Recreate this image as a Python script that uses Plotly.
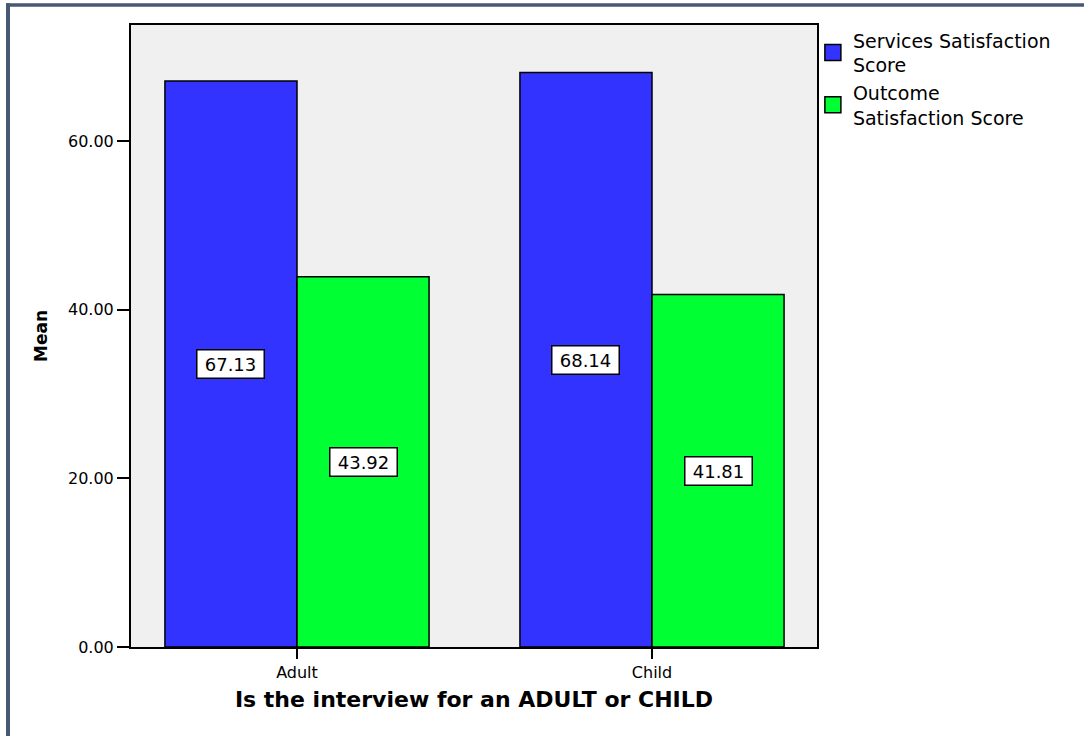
import plotly.graph_objects as go

categories = ["Adult", "Child"]
series_names = ["Services Satisfaction<br>Score", "Outcome<br>Satisfaction Score"]
services = [67.13, 68.14]
outcome = [43.92, 41.81]
y_ticks = [0, 20, 40, 60]

colors = ["#3333ff", "#00ff33"]
FONT = "DejaVu Sans, sans-serif"

W, H = 1084, 736
L, R, T, B = 131, 267, 25, 89
x_pos = list(range(len(categories)))
bar_w = 0.372

fig = go.Figure()
for name, vals, col in zip(series_names, [services, outcome], colors):
    fig.add_trace(go.Bar(
        x=x_pos, y=vals, name=name, width=bar_w, showlegend=False, legendgroup=name,
        marker=dict(color=col, line=dict(color="black", width=1.5)),
        hoverinfo="skip",
    ))
    # legend entry with a larger square swatch
    fig.add_trace(go.Scatter(
        x=[None], y=[None], mode="markers", name=name, legendgroup=name,
        marker=dict(symbol="square", size=22, color=col, line=dict(color="black", width=1.5)),
        hoverinfo="skip",
    ))

# value labels at half height of each bar
for si, vals in enumerate([services, outcome]):
    off = (si - 0.5) * bar_w
    for xi, v in zip(x_pos, vals):
        fig.add_annotation(
            x=xi + off, y=v / 2, xref="x", yref="y",
            text=f"{v:.2f}", showarrow=False, width=60,
            font=dict(family=FONT, size=18, color="black"),
            bgcolor="white", bordercolor="black", borderwidth=1.5, borderpad=3,
        )

fig.update_layout(
    width=W, height=H,
    margin=dict(l=L, r=R, t=T, b=B, pad=0),
    paper_bgcolor="white", plot_bgcolor="#f0f0f0",
    barmode="group", bargap=0.256, bargroupgap=0,
    font=dict(family=FONT, size=16, color="black"),
    showlegend=True,
    legend=dict(x=0.994, y=1.006, xanchor="left", yanchor="top",
                font=dict(family=FONT, size=19, color="black"),
                itemsizing="trace", tracegroupgap=0,
                bgcolor="rgba(0,0,0,0)"),
    xaxis=dict(
        range=[-0.4676, 1.4648], tickmode="array", tickvals=x_pos, ticktext=categories,
        showgrid=False, zeroline=False, showline=True, linecolor="black", linewidth=2,
        mirror=True, ticks="outside", ticklen=10, tickcolor="black", tickwidth=2,
        tickfont=dict(size=16),
        title=dict(text="<b>Is the interview for an ADULT or CHILD</b>",
                   font=dict(size=22), standoff=10),
    ),
    yaxis=dict(
        range=[0, 73.76], tickmode="array", tickvals=y_ticks, tickformat=".2f",
        showgrid=False, zeroline=False, showline=True, linecolor="black", linewidth=2,
        mirror=True, ticks="outside", ticklen=12, tickcolor="black", tickwidth=2,
        tickfont=dict(size=16),
        title=dict(text="<b>Mean</b>", font=dict(size=17), standoff=16),
    ),
)

# outer frame (top and left edges visible in the reference)
pw, ph = W - L - R, H - T - B
def px2x(px):
    return (px - L) / pw
def py2y(py):
    return (H - B - py) / ph
frame_col = "#475872"
fig.add_shape(type="line", xref="paper", yref="paper",
              x0=px2x(6), x1=px2x(W + 5), y0=py2y(5), y1=py2y(5),
              line=dict(color=frame_col, width=3.5))
fig.add_shape(type="line", xref="paper", yref="paper",
              x0=px2x(8), x1=px2x(8), y0=py2y(3.3), y1=py2y(H + 5),
              line=dict(color=frame_col, width=4))

fig.write_html("out.html", config={"displayModeBar": False},
               post_script="document.body.style.margin='0';")
